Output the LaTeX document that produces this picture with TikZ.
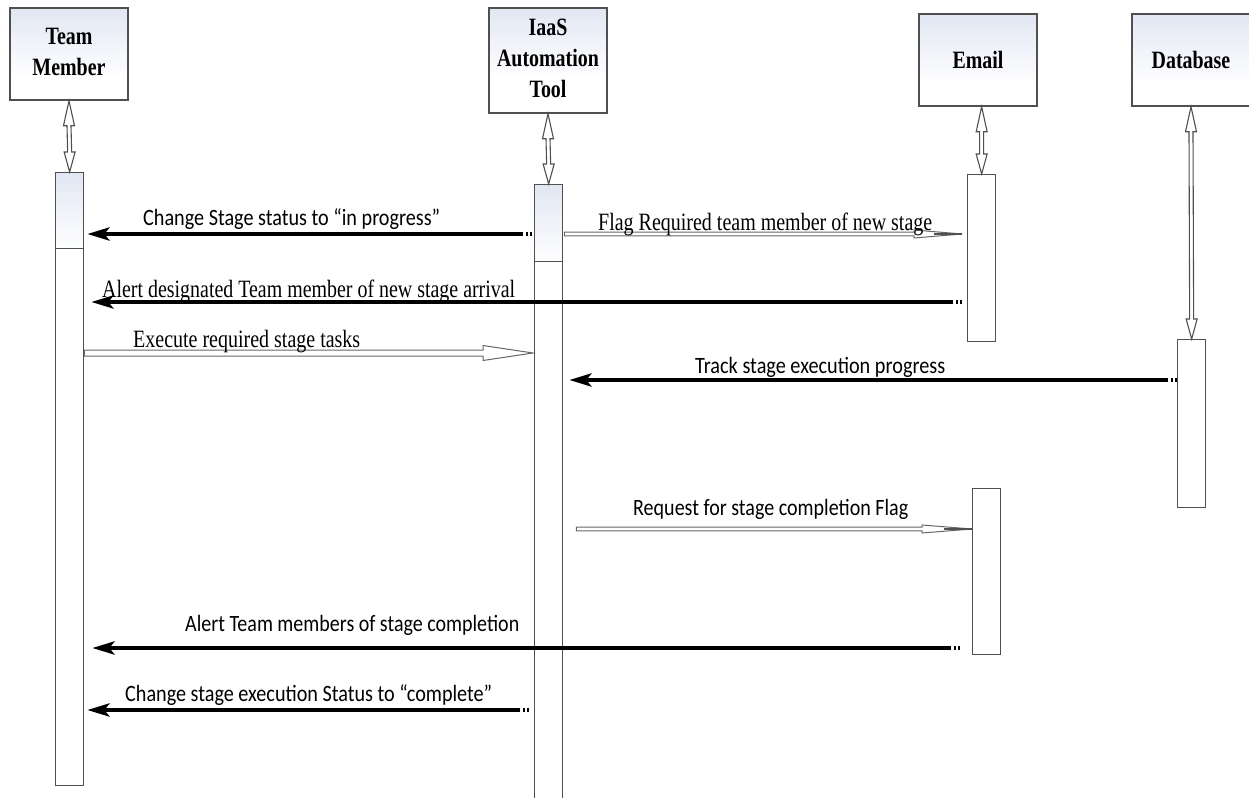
\documentclass[tikz,border=0pt]{standalone}
\usepackage{fontspec}
\usepackage{graphicx}
\setmainfont{Liberation Serif}
\newfontfamily\lblsans{Carlito}
\newfontfamily\lblserif{Liberation Serif}
\usetikzlibrary{arrows.meta,calc}

\definecolor{edge}{HTML}{505050}
\definecolor{tint}{HTML}{E2E7F3}
\definecolor{hollowedge}{HTML}{666666}

% tint fading to white over the top #1 of the current path picture
\newcommand\tintbands[1]{%
  \foreach \i [evaluate=\i as \p using {int(100-5*\i)}] in {0,...,19}
    \fill[tint!\p!white] ($(path picture bounding box.north west)+(0,#1*\i/20)$)
      rectangle ($(path picture bounding box.north east)+(0,#1*\i/20+#1/20+0.4)$);
}

\tikzset{
  hdr/.style={draw=edge, line width=1.5bp, path picture={\tintbands{70}},
    minimum width=118bp, inner sep=0pt,
    font=\fontsize{25}{31}\selectfont\bfseries, align=center},
  actbar/.style={draw=edge, line width=1.3bp, minimum width=28bp, inner sep=0pt, anchor=north west},
  % bar whose upper segment is tinted and closed by a divider
  splitbar/.style={actbar, path picture={
      \tintbands{#1}
      \draw[edge, line width=1.3bp] ($(path picture bounding box.north west)+(0,#1)$)
        -- ($(path picture bounding box.north east)+(0,#1)$);}},
  lifeline/.style={draw=edge, line width=1.1bp, fill=white},
  syncmsg/.style={line width=4.5bp, -{Stealth[length=22bp,width=13bp,inset=5bp]}},
  tailmarks/.style={line width=4.5bp, dash pattern=on 2.5bp off 1.5bp},
  hollowmsg/.style={draw=hollowedge, line width=1bp, fill=white},
  sanslbl/.style={anchor=base west, inner sep=0pt, font=\lblsans\fontsize{23.5}{28}\selectfont},
  seriflbl/.style={anchor=base west, inner sep=0pt, font=\lblserif\fontsize{25}{30}\selectfont},
}

% double-headed hollow connector from a header box down to its activation bar
\newcommand\lifelinearrow[2]{%
  \draw[lifeline] (#1) -- ++(5.5,25) -- ++(-3.5,0) -- ($(#2)+(2,-20)$) -- ++(3.5,0)
    -- (#2) -- ++(-5.5,-20) -- ++(3.5,0) -- ($(#1)+(-2,25)$) -- ++(-3.5,0) -- cycle;
}
% thick black message with a broken tail
\newcommand\syncarrow[2]{%
  \draw[tailmarks] (#1) -- ($(#1)+(-8,0)$);
  \draw[syncmsg] ($(#1)+(-9,0)$) -- (#2);
}
% hollow outlined message pointing right: start, end, head length, head half width, shaft half width
\newcommand\hollowarrow[5]{%
  \draw[hollowmsg] ($(#1)+(0,-#5)$) -- ($(#2)+(-#3,-#5)$) -- ($(#2)+(-#3,-#4)$) -- (#2)
    -- ($(#2)+(-#3,#4)$) -- ($(#2)+(-#3,#5)$) -- ($(#1)+(0,#5)$) -- cycle;
}

\begin{document}
\begin{tikzpicture}[x=1bp,y=-1bp]
\useasboundingbox (0,0) rectangle (1249,798);

% participants
\node[hdr, minimum height=92bp]  (tm)    at (69,54)    {\scalebox{0.8}[1]{\begin{tabular}{@{}c@{}}Team\\Member\end{tabular}}};
\node[hdr, minimum height=105bp] (iaas)  at (548,60.5) {\scalebox{0.8}[1]{\begin{tabular}{@{}c@{}}IaaS\\Automation\\Tool\end{tabular}}};
\node[hdr, minimum height=92bp]  (email) at (978,60)   {\scalebox{0.8}[1]{Email}};
\node[hdr, minimum height=92bp]  (db)    at (1191,60)  {\scalebox{0.8}[1]{Database}};

% activation bars
\node[splitbar=76, minimum height=613bp] (tmbar)   at (55,172)  {};
\node[splitbar=77, minimum height=618bp] (iaasbar) at (534,184) {};
\node[actbar, minimum height=167bp] (ebarA)   at (967,174) {};
\node[actbar, minimum height=166bp] (ebarB)   at (972,488) {};
\node[actbar, minimum height=168bp] (dbbar)   at (1177,339) {};

% lifeline connectors
\lifelinearrow{tm.south}{tmbar.north}
\lifelinearrow{iaas.south}{iaasbar.north}
\lifelinearrow{ebarA.north |- email.south}{ebarA.north}
\lifelinearrow{db.south}{dbbar.north}

% message end points
\coordinate (m1a) at ($(iaasbar.north west)+(-2,50)$);
\coordinate (m1b) at ($(tmbar.north east)+(3,62)$);
\coordinate (m2a) at ($(iaasbar.north east)+(1,50)$);
\coordinate (m2b) at ($(ebarA.north west)+(-5,60)$);
\coordinate (m3a) at ($(ebarA.north west)+(-5,128)$);
\coordinate (m3b) at ($(tmbar.north east)+(7,130)$);
\coordinate (m4a) at ($(tmbar.north east)+(0,181)$);
\coordinate (m4b) at ($(iaasbar.north west)+(-1,169)$);
\coordinate (m5a) at ($(dbbar.north west)+(0,41)$);
\coordinate (m5b) at ($(iaasbar.north east)+(6,196)$);
\coordinate (m6a) at ($(iaasbar.north east)+(13,345)$);
\coordinate (m6b) at ($(ebarB.north west)+(0,41)$);
\coordinate (m7a) at ($(ebarB.north west)+(-12,160)$);
\coordinate (m7b) at ($(tmbar.north east)+(8,476)$);
\coordinate (m8a) at ($(iaasbar.north west)+(-5,526)$);
\coordinate (m8b) at ($(tmbar.north east)+(3,538)$);

% messages
\syncarrow{m1a}{m1b}
\hollowarrow{m2a}{m2b}{48}{4}{1.8}
\draw[edge, line width=1.2bp] ($(m2b)+(-28,0)$) -- (m2b);
\syncarrow{m3a}{m3b}
\hollowarrow{m4a}{m4b}{50}{7.5}{3}
\syncarrow{m5a}{m5b}
\hollowarrow{m6a}{m6b}{50}{4}{1.8}
\draw[edge, line width=1.2bp] ($(m6b)+(-28,0)$) -- (m6b);
\syncarrow{m7a}{m7b}
\syncarrow{m8a}{m8b}

% message labels
\node[sanslbl]  (l1) at (143,225) {\resizebox{297bp}{\height}{Change Stage status to “in progress”}};
\node[seriflbl] (l2) at (598,230) {\resizebox{334bp}{\height}{Flag Required team member of new stage}};
\node[seriflbl] (l3) at (102,297) {\resizebox{413bp}{\height}{Alert designated Team member of new stage arrival}};
\node[seriflbl] (l4) at (133,347) {\resizebox{227bp}{\height}{Execute required stage tasks}};
\node[sanslbl]  (l5) at (695,373) {\resizebox{250bp}{\height}{Track stage execution progress}};
\node[sanslbl]  (l6) at (633,515) {\resizebox{275bp}{\height}{Request for stage completion Flag}};
\node[sanslbl]  (l7) at (185,631) {\resizebox{334bp}{\height}{Alert Team members of stage completion}};
\node[sanslbl]  (l8) at (125,701) {\resizebox{367bp}{\height}{Change stage execution Status to “complete”}};
\end{tikzpicture}
\end{document}
